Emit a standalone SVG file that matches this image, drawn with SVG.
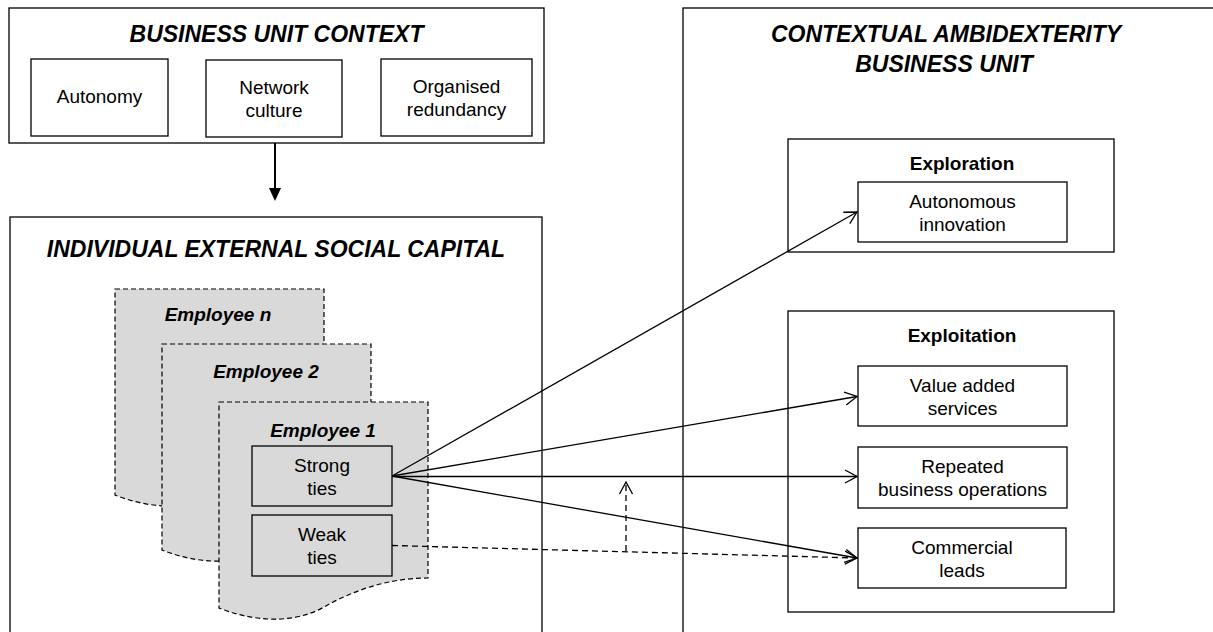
<svg xmlns="http://www.w3.org/2000/svg" width="1213" height="632" viewBox="0 0 1213 632">
<defs>
<style>
.box{fill:#fff;stroke:#000;stroke-width:1.3}
.emp{fill:#d9d9d9;stroke:#000;stroke-width:1.2;stroke-dasharray:5 3}
.t{font-family:"Liberation Sans",Arial,sans-serif;font-size:19px;text-anchor:middle;fill:#000}
.title{font-family:"Liberation Sans",Arial,sans-serif;font-size:23px;font-weight:bold;font-style:italic;text-anchor:middle;fill:#000}
.b{font-weight:bold}
.bi{font-weight:bold;font-style:italic}
.c{fill:none;stroke:#000;stroke-width:1.3}
.d{stroke-dasharray:6 4}
</style>
<marker id="open" viewBox="0 0 14 16" refX="13" refY="8" markerWidth="14" markerHeight="16" markerUnits="userSpaceOnUse" orient="auto">
<path d="M1,1.5 L13,8 L1,14.5" fill="none" stroke="#000" stroke-width="1.3"/>
</marker>
<path id="doc" d="M0,0 H209 V176 C170,176 135,188 105,205 C75,222 35,220 0,206 Z"/>
</defs>

<g id="business-unit-context">
<rect class="box" x="9" y="8" width="535" height="135"/>
<text class="title" x="276.5" y="42">BUSINESS UNIT CONTEXT</text>
</g>
<g id="autonomy">
<rect class="box" x="31" y="59" width="137" height="77"/>
<text class="t" x="99.5" y="103">Autonomy</text>
</g>
<g id="network-culture">
<rect class="box" x="206" y="60" width="136" height="77"/>
<text class="t" x="274" y="94">Network</text>
<text class="t" x="274" y="117">culture</text>
</g>
<g id="organised-redundancy">
<rect class="box" x="381" y="59" width="151" height="77"/>
<text class="t" x="456.5" y="93">Organised</text>
<text class="t" x="456.5" y="116">redundancy</text>
</g>

<g id="individual-external-social-capital">
<rect class="box" x="10" y="217" width="532" height="430"/>
<text class="title" x="276" y="257">INDIVIDUAL EXTERNAL SOCIAL CAPITAL</text>
</g>
<g id="employee-n">
<use href="#doc" class="emp" x="115" y="289"/>
<text class="t bi" x="218" y="321">Employee n</text>
</g>
<g id="employee-2">
<use href="#doc" class="emp" x="162" y="344"/>
<text class="t bi" x="266" y="378">Employee 2</text>
</g>
<g id="employee-1">
<use href="#doc" class="emp" x="219" y="402"/>
<text class="t bi" x="323" y="437">Employee 1</text>
</g>
<g id="strong-ties">
<rect class="box" x="252" y="446" width="140" height="60" style="fill:#d9d9d9"/>
<text class="t" x="322" y="471.5">Strong</text>
<text class="t" x="322" y="494.5">ties</text>
</g>
<g id="weak-ties">
<rect class="box" x="252" y="515" width="140" height="61" style="fill:#d9d9d9"/>
<text class="t" x="322" y="541">Weak</text>
<text class="t" x="322" y="564">ties</text>
</g>

<g id="contextual-ambidexterity">
<rect class="box" x="683" y="8" width="560" height="640"/>
<text class="title" x="946" y="42">CONTEXTUAL AMBIDEXTERITY</text>
<text class="title" x="944" y="72">BUSINESS UNIT</text>
</g>
<g id="exploration">
<rect class="box" x="788" y="139" width="326" height="113"/>
<text class="t b" x="962" y="170">Exploration</text>
</g>
<g id="autonomous-innovation">
<rect class="box" x="858" y="182" width="209" height="60"/>
<text class="t" x="962.5" y="207.5">Autonomous</text>
<text class="t" x="962.5" y="230.5">innovation</text>
</g>
<g id="exploitation">
<rect class="box" x="788" y="311" width="326" height="301"/>
<text class="t b" x="962" y="342">Exploitation</text>
</g>
<g id="value-added-services">
<rect class="box" x="858" y="366" width="209" height="60"/>
<text class="t" x="962.5" y="391.5">Value added</text>
<text class="t" x="962.5" y="414.5">services</text>
</g>
<g id="repeated-business-operations">
<rect class="box" x="858" y="447" width="209" height="61"/>
<text class="t" x="962.5" y="473">Repeated</text>
<text class="t" x="962.5" y="496">business operations</text>
</g>
<g id="commercial-leads">
<rect class="box" x="858" y="528" width="208" height="60"/>
<text class="t" x="962" y="553.5">Commercial</text>
<text class="t" x="962" y="576.5">leads</text>
</g>

<g id="connectors">
<line x1="275" y1="143" x2="275" y2="190" stroke="#000" stroke-width="2"/>
<polygon points="269,188 281,188 275,201" fill="#000"/>
<path class="c" d="M392,476 L857,212" marker-end="url(#open)"/>
<path class="c" d="M392,476 L857,396.5" marker-end="url(#open)"/>
<path class="c" d="M392,476.5 L857,476.5" marker-end="url(#open)"/>
<path class="c" d="M392,476 L857,558" marker-end="url(#open)"/>
<path class="c d" d="M392,545.5 L857,558" marker-end="url(#open)"/>
<path class="c d" d="M626,551 L626,482" marker-end="url(#open)"/>
</g>
</svg>
